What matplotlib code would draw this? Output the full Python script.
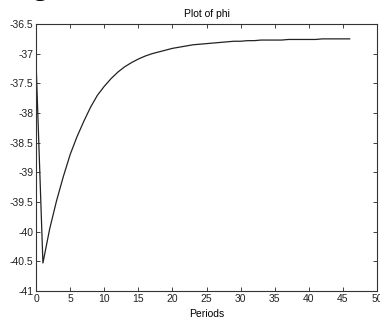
import matplotlib
matplotlib.use("Agg")
import matplotlib.pyplot as plt

# phi over periods 0..46
periods = list(range(47))
phi = [-37.17, -40.53, -39.95, -39.48, -39.07, -38.70, -38.40, -38.14, -37.90, -37.70,
       -37.55, -37.42, -37.31, -37.22, -37.15, -37.09, -37.04, -37.00, -36.97, -36.94,
       -36.91, -36.89, -36.87, -36.85, -36.84, -36.83, -36.82, -36.81, -36.80, -36.79,
       -36.79, -36.78, -36.78, -36.77, -36.77, -36.77, -36.77, -36.76, -36.76, -36.76,
       -36.76, -36.76, -36.75, -36.75, -36.75, -36.75, -36.75]

x_ticks = [0, 5, 10, 15, 20, 25, 30, 35, 40, 45, 50]
y_ticks = [-41, -40.5, -40, -39.5, -39, -38.5, -38, -37.5, -37, -36.5]
y_tick_labels = ['-41', '-40.5', '-40', '-39.5', '-39', '-38.5', '-38', '-37.5', '-37', '-36.5']

plt.rcParams['font.family'] = ['Liberation Sans', 'DejaVu Sans']

fig = plt.figure(figsize=(3.8, 3.25), dpi=100)
ax = fig.add_axes([0.095, 0.105, 0.897, 0.821])

ax.plot(periods, phi, color='#222222', linewidth=0.9)

ax.set_xlim(0, 50)
ax.set_ylim(-41, -36.5)
ax.set_xticks(x_ticks)
ax.set_yticks(y_ticks)
ax.set_yticklabels(y_tick_labels)
ax.tick_params(direction='in', top=True, right=True, length=3, width=0.6,
               labelsize=7.5, colors='#222222', pad=2)
for s in ax.spines.values():
    s.set_linewidth(0.8)
    s.set_color('#333333')

ax.set_title('Plot of phi', fontsize=7.5, pad=5)
ax.set_xlabel('Periods', fontsize=7.5, labelpad=4)

# cropped caption fragment at the top edge (only the descender shows)
fig.text(0.087, 1.019, 'g', fontsize=22, family='Liberation Serif', va='baseline', ha='left')

fig.savefig('out.png', dpi=100, facecolor='white')
